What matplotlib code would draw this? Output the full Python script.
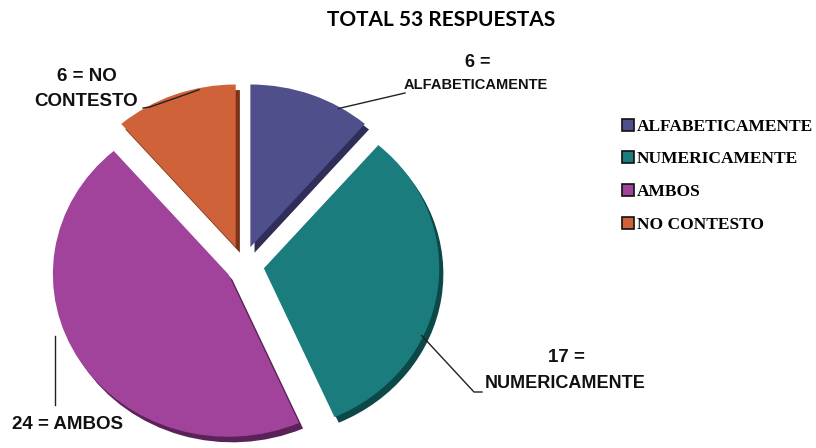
import numpy as np
import matplotlib
matplotlib.use("Agg")
import matplotlib.pyplot as plt
import matplotlib.patheffects as pe

categories = ["ALFABETICAMENTE", "NUMERICAMENTE", "AMBOS", "NO CONTESTO"]
values = [6, 17, 24, 6]
colors = ["#4f4f8b", "#1a7c7c", "#a1439b", "#d0623a"]
dark = ["#2e2e58", "#0d4848", "#5a2258", "#7a3318"]
title = "TOTAL 53 RESPUESTAS"

W, H = 816, 448
fig = plt.figure(figsize=(W / 100, H / 100), dpi=100)
fig.text(0.54, 0.955, title, ha="center", va="center", fontsize=15,
         fontweight="bold", family="Lato")

ax = fig.add_axes([0.04, -0.01, 0.52, 0.835])
wedges, _ = ax.pie(values, colors=colors, startangle=90, counterclock=False,
                   explode=[0.12, 0.12, 0.1, 0.12], radius=1.0,
                   wedgeprops=dict(linewidth=0))
ax.set_aspect("auto")
ax.set_xlim(-1.2, 1.22)
ax.set_ylim(-1.15, 1.15)

for w, d in zip(wedges, dark):
    w.set_path_effects([pe.SimplePatchShadow(offset=(3, -4), shadow_rgbFace=d, alpha=1.0),
                        pe.Normal()])


def edge_point(w, frac=0.5, r=1.0):
    # frac measured from theta1 (the smaller angle)
    ang = np.deg2rad(w.theta1 + frac * (w.theta2 - w.theta1))
    cx, cy = w.center
    return cx + r * np.cos(ang), cy + r * np.sin(ang)


def fig_px(x, y):
    return x / W, 1 - y / H


lab = dict(fontweight="bold", family="Liberation Sans", color="#111111")


def leader(points_px, target=None):
    xs = [p[0] / W for p in points_px]
    ys = [1 - p[1] / H for p in points_px]
    if target is not None:
        tx, ty = fig.transFigure.inverted().transform(ax.transData.transform(target))
        xs.append(tx)
        ys.append(ty)
    fig.add_artist(plt.Line2D(xs, ys, color="#222222", lw=1.0))


# NO CONTESTO
fig.text(*fig_px(87, 76), "6 = NO", ha="center", va="center", fontsize=13.5, **lab)
fig.text(*fig_px(86, 101), "CONTESTO", ha="center", va="center", fontsize=13.5, **lab)
leader([(143, 108), (150, 107)], edge_point(wedges[3], 0.3, 0.99))

# ALFABETICAMENTE
fig.text(*fig_px(478, 62), "6 =", ha="center", va="center", fontsize=13, **lab)
fig.text(*fig_px(476, 85), "ALFABETICAMENTE", ha="center", va="center", fontsize=10.5, **lab)
leader([(405, 93)], edge_point(wedges[0], 0.25, 0.99))

# NUMERICAMENTE
fig.text(*fig_px(566, 357), "17 =", ha="center", va="center", fontsize=13.5, **lab)
fig.text(*fig_px(565, 383), "NUMERICAMENTE", ha="center", va="center", fontsize=13, **lab)
leader([(482, 392), (474, 392)], edge_point(wedges[1], 0.36, 0.99))

# AMBOS
fig.text(*fig_px(67, 424), "24 = AMBOS", ha="center", va="center", fontsize=13.5, **lab)
leader([(55, 405), (55, 336)])

handles = [plt.Rectangle((0, 0), 1, 1, facecolor=c, edgecolor="#111111", lw=1.2)
           for c in colors]
fig.legend(handles, categories, loc="upper left", bbox_to_anchor=(0.743, 0.77),
           frameon=False, handlelength=0.7, handleheight=0.7, handletextpad=0.15,
           labelspacing=0.95, prop=dict(family="Liberation Serif", weight="bold", size=12.5))

fig.savefig("out.png", dpi=100)
